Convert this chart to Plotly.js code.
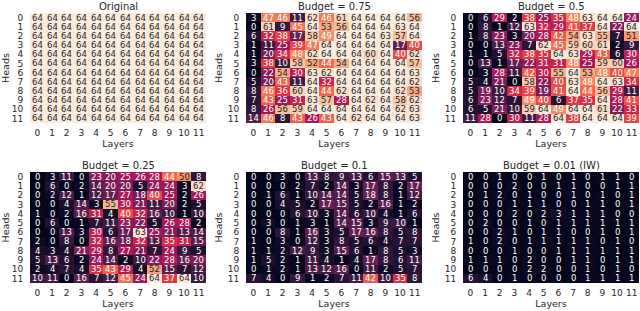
<!DOCTYPE html>
<html>
<head>
<meta charset="utf-8">
<script src="https://cdn.plot.ly/plotly-3.0.1.min.js"></script>
<style>html,body{margin:0;padding:0;background:#fff;}#chart{width:640px;height:311px;}</style>
</head>
<body>
<div id="chart"></div>
<script>
var layers = [0,1,2,3,4,5,6,7,8,9,10,11];
var heads = [0,1,2,3,4,5,6,7,8,9,10,11];
var titles = ["Original", "Budget = 0.75", "Budget = 0.5", "Budget = 0.25", "Budget = 0.1", "Budget = 0.01 (IW)"];

var original = [
 [64,64,64,64,64,64,64,64,64,64,64,64],
 [64,64,64,64,64,64,64,64,64,64,64,64],
 [64,64,64,64,64,64,64,64,64,64,64,64],
 [64,64,64,64,64,64,64,64,64,64,64,64],
 [64,64,64,64,64,64,64,64,64,64,64,64],
 [64,64,64,64,64,64,64,64,64,64,64,64],
 [64,64,64,64,64,64,64,64,64,64,64,64],
 [64,64,64,64,64,64,64,64,64,64,64,64],
 [64,64,64,64,64,64,64,64,64,64,64,64],
 [64,64,64,64,64,64,64,64,64,64,64,64],
 [64,64,64,64,64,64,64,64,64,64,64,64],
 [64,64,64,64,64,64,64,64,64,64,64,64]
];
var budget075 = [
 [3,47,46,11,62,46,61,64,64,64,64,56],
 [0,61,9,45,64,53,56,64,64,64,63,64],
 [6,32,38,17,58,49,64,64,64,63,57,64],
 [1,11,25,39,47,64,64,64,64,64,17,40],
 [1,20,34,48,62,64,64,64,60,64,40,62],
 [3,38,10,58,52,44,54,64,64,64,64,57],
 [0,22,54,30,63,62,64,64,64,64,64,63],
 [5,20,43,11,64,32,64,64,64,64,64,62],
 [8,46,36,60,64,44,62,64,64,64,62,53],
 [7,43,25,31,63,57,28,64,62,64,58,62],
 [8,26,56,59,64,64,64,64,64,64,62,63],
 [14,46,8,43,26,43,64,62,64,64,64,63]
];
var budget05 = [
 [0,6,29,2,38,25,35,48,63,64,64,24],
 [0,8,1,12,63,32,29,41,37,64,22,64],
 [1,8,23,3,20,28,42,54,63,55,7,51],
 [0,0,13,23,7,62,45,59,60,61,2,9],
 [1,1,5,32,38,35,64,63,29,43,6,30],
 [0,13,1,17,22,31,31,48,25,59,60,26],
 [0,3,28,11,42,30,55,64,53,48,40,47],
 [5,4,21,0,58,22,40,63,48,64,63,34],
 [5,19,10,34,39,19,41,64,44,56,29,11],
 [6,23,12,7,49,40,6,37,35,64,28,41],
 [6,5,21,10,59,64,49,64,64,61,22,33],
 [11,28,0,30,11,28,64,38,64,64,64,39]
];
var budget025 = [
 [0,3,11,0,23,20,25,26,28,44,50,8],
 [0,6,0,2,14,20,20,5,24,24,3,62],
 [0,2,12,1,12,17,27,18,40,25,2,26],
 [0,0,4,14,3,55,30,21,11,20,2,5],
 [1,0,2,16,31,4,40,32,16,10,1,10],
 [0,6,0,1,7,11,23,22,5,26,28,2],
 [0,0,13,3,30,6,17,63,25,21,13,14],
 [2,0,8,0,32,16,18,32,13,35,31,15],
 [4,3,4,21,29,8,27,21,7,24,9,5],
 [5,13,6,2,24,14,2,10,22,28,16,20],
 [2,4,7,4,35,43,29,4,52,15,7,12],
 [10,11,0,16,7,12,45,24,64,37,64,10]
];
var budget01 = [
 [0,0,3,0,13,8,9,13,6,15,13,5],
 [0,0,0,2,7,2,14,3,17,8,2,17],
 [0,1,6,1,10,14,14,5,18,8,1,12],
 [0,0,4,5,2,17,15,5,2,16,1,2],
 [0,0,0,6,10,3,14,6,10,4,1,6],
 [0,3,0,1,3,1,14,15,3,9,10,1],
 [0,0,8,1,16,3,5,17,16,8,5,8],
 [1,0,3,0,12,3,8,5,6,4,7,7],
 [1,1,2,12,9,3,15,6,1,8,5,3],
 [1,5,2,1,11,4,1,4,17,8,6,11],
 [0,1,2,1,13,12,16,0,11,2,5,7],
 [7,4,0,9,1,2,7,11,42,10,35,8]
];
var budget001 = [
 [0,0,1,0,0,1,0,1,0,1,1,0],
 [0,0,0,2,0,0,1,1,0,0,1,1],
 [0,1,2,0,1,0,0,1,0,1,0,1],
 [0,0,0,1,1,1,0,0,1,1,0,1],
 [0,0,0,2,0,2,3,1,1,1,0,0],
 [0,2,0,0,1,0,1,1,1,1,1,1],
 [0,0,2,1,0,1,1,0,0,1,0,1],
 [1,0,2,0,1,1,1,1,1,0,1,0],
 [0,0,0,1,0,0,1,1,1,1,1,1],
 [1,1,1,0,2,0,0,1,1,0,1,1],
 [0,0,0,0,2,2,0,0,1,0,1,0],
 [6,4,0,1,0,0,0,0,1,1,1,1]
];

var panels = [original, budget075, budget05, budget025, budget01, budget001];

var rocket = [
 [0, '#03051A'], [1/7, '#35193E'], [2/7, '#701F57'], [3/7, '#AD1759'],
 [4/7, '#E13342'], [5/7, '#F37651'], [6/7, '#F6B48F'], [1, '#FAEBDD']
];

var W = 640, H = 311;
var cols = [[30, 206], [246, 422], [463, 639]];
var rows = [[13, 123], [172, 283]];

var data = [];
var layout = {
  width: W, height: H,
  margin: {l: 0, r: 0, t: 0, b: 0},
  paper_bgcolor: '#fff', plot_bgcolor: '#fff',
  font: {family: 'DejaVu Sans', color: '#262626'},
  showlegend: false,
  annotations: []
};

for (var k = 0; k < 6; k++) {
  var n = k + 1;
  var c = cols[k % 3], r = rows[Math.floor(k / 3)];
  var xa = 'x' + (n === 1 ? '' : n), ya = 'y' + (n === 1 ? '' : n);
  data.push({
    type: 'heatmap', z: panels[k], x: layers, y: heads,
    xaxis: xa, yaxis: ya, colorscale: rocket, zmin: 0, zmax: 64,
    showscale: false, hoverinfo: 'skip'
  });
  layout['xaxis' + (n === 1 ? '' : n)] = {
    domain: [c[0] / W, c[1] / W], anchor: ya, range: [-0.5, 11.5],
    showgrid: false, zeroline: false, showline: false,
    tickmode: 'array', tickvals: layers, ticktext: layers.map(String),
    ticks: 'outside', ticklen: 1, tickcolor: 'rgba(0,0,0,0)',
    tickfont: {size: 9, color: '#262626'},
    title: {text: 'Layers', font: {size: 9.5, color: '#262626'}, standoff: 3}
  };
  layout['yaxis' + (n === 1 ? '' : n)] = {
    domain: [1 - r[1] / H, 1 - r[0] / H], anchor: xa, range: [11.5, -0.5],
    showgrid: false, zeroline: false, showline: false,
    tickmode: 'array', tickvals: heads, ticktext: heads.map(String),
    ticks: 'outside', ticklen: 4, tickcolor: 'rgba(0,0,0,0)',
    tickfont: {size: 9, color: '#262626'},
    title: {text: 'Heads', font: {size: 9.5, color: '#262626'}, standoff: 3}
  };
  layout.annotations.push({
    xref: 'paper', yref: 'paper', x: (c[0] + c[1]) / 2 / W, y: 1 - (r[0] - 7) / H,
    text: titles[k], showarrow: false, xanchor: 'center', yanchor: 'middle',
    font: {size: 10, color: '#262626'}
  });
  var z = panels[k];
  for (var i = 0; i < z.length; i++) {
    for (var j = 0; j < z[i].length; j++) {
      var v = z[i][j];
      layout.annotations.push({
        xref: xa, yref: ya, x: layers[j], y: heads[i], text: String(v),
        showarrow: false, xanchor: 'center', yanchor: 'middle',
        font: {size: 8.5, color: v >= 50 ? '#262626' : '#ffffff'}
      });
    }
  }
}

Plotly.newPlot('chart', data, layout, {staticPlot: true, displayModeBar: false});
</script>
</body>
</html>
